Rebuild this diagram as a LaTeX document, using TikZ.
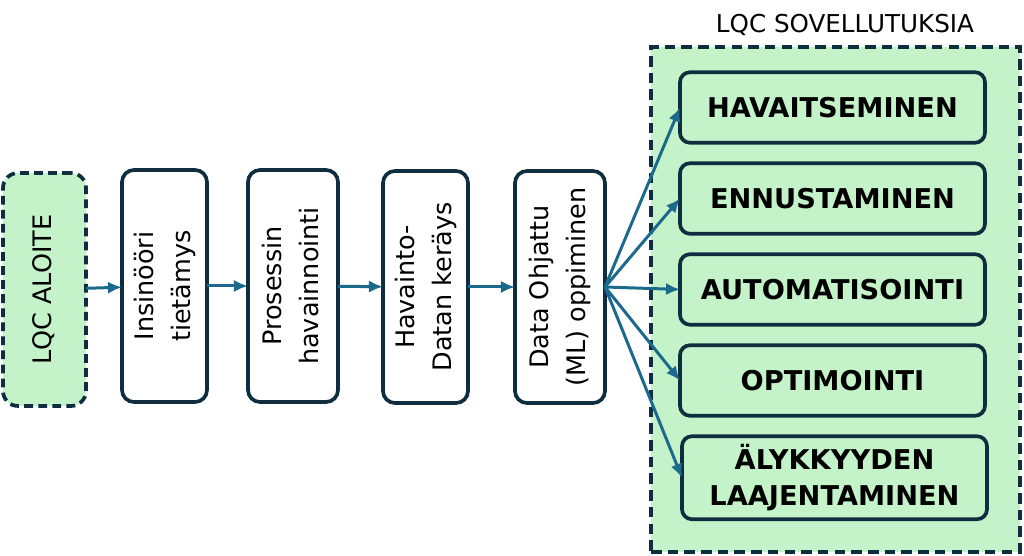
\documentclass[tikz,border=0pt]{standalone}
\usepackage{fontspec}
\setmainfont{DejaVu Sans}
\usepackage{graphicx}
\usepackage{xcolor}
\usepackage{tikz}
\usetikzlibrary{positioning,arrows.meta}

\definecolor{rajaus}{HTML}{0E2E40}
\definecolor{nuoli}{HTML}{1B6A8C}
\definecolor{vihrea}{HTML}{C4F2C9}

\newcommand{\pystyteksti}[1]{\rotatebox{90}{\begin{tabular}{@{}c@{}}#1\end{tabular}}}

\tikzset{
    vaihe/.style={draw=rajaus, line width=2.1pt, rounded corners=0.24cm, fill=white,
        minimum width=1.75cm, minimum height=4.64cm, inner sep=0pt, outer sep=0pt,
        font=\fontsize{14.5}{21}\selectfont},
    aloitus/.style={vaihe, fill=vihrea, dash pattern=on 5pt off 3pt,
        rounded corners=0.3cm, minimum width=1.66cm, minimum height=4.66cm},
    sovellus/.style={draw=rajaus, line width=2.1pt, rounded corners=0.2cm, fill=vihrea,
        minimum width=6.1cm, minimum height=1.41cm, align=center, inner sep=0pt, outer sep=0pt,
        font=\fontsize{15.5}{20.5}\selectfont\bfseries},
    kuori/.style={draw=rajaus, line width=2.1pt, fill=vihrea, dash pattern=on 6pt off 3.5pt,
        minimum width=7.38cm, minimum height=10.1cm},
    virta/.style={draw=nuoli, line width=1.7pt, -{Latex[length=8pt,width=7pt]}}
}

\begin{document}
\begin{tikzpicture}
                \useasboundingbox (0,0) rectangle (20.48,11.12);

                % sovellukset taustalla
                \node[kuori] (sovellukset) at (16.71,5.13) {};
                \node[font=\fontsize{14}{16}\selectfont] (otsikko) at (16.9,10.62) {LQC SOVELLUTUKSIA};

                % vaiheet vasemmalta oikealle
                \node[aloitus] (aloite) at (0.89,5.33) {\pystyteksti{LQC ALOITE}};
                \node[vaihe, minimum width=1.7cm] (tietamys) at (3.29,5.40) {\pystyteksti{Insinööri\\tietämys}};
                \node[vaihe, minimum width=1.8cm] (havainnointi) at (5.86,5.40) {\pystyteksti{Prosessin\\havainnointi}};
                \node[vaihe, minimum width=1.7cm] (keruu) at (8.51,5.38) {\pystyteksti{Havainto-\\Datan keräys}};
                \node[vaihe, minimum width=1.8cm] (oppiminen) at (11.2,5.38) {\pystyteksti{Data Ohjattu\\(ML) oppiminen}};

                \draw[virta] (aloite) -- (tietamys);
                \draw[virta] (tietamys) -- (havainnointi);
                \draw[virta] (havainnointi) -- (keruu);
                \draw[virta] (keruu) -- (oppiminen);

                % sovellusalueet
                \node[sovellus] (havaitseminen) at (16.65,8.97) {HAVAITSEMINEN};
                \node[sovellus, below=0.41cm of havaitseminen] (ennustaminen) {ENNUSTAMINEN};
                \node[sovellus, below=0.41cm of ennustaminen] (automatisointi) {AUTOMATISOINTI};
                \node[sovellus, below=0.41cm of automatisointi] (optimointi) {OPTIMOINTI};
                \node[sovellus, below=0.41cm of optimointi, minimum height=1.66cm, xshift=0.04cm] (laajentaminen) {ÄLYKKYYDEN\\LAAJENTAMINEN};

                \foreach \kohde in {havaitseminen,ennustaminen,automatisointi,optimointi,laajentaminen}
                    \draw[virta] (oppiminen.east) -- (\kohde.west);

\end{tikzpicture}
\end{document}
